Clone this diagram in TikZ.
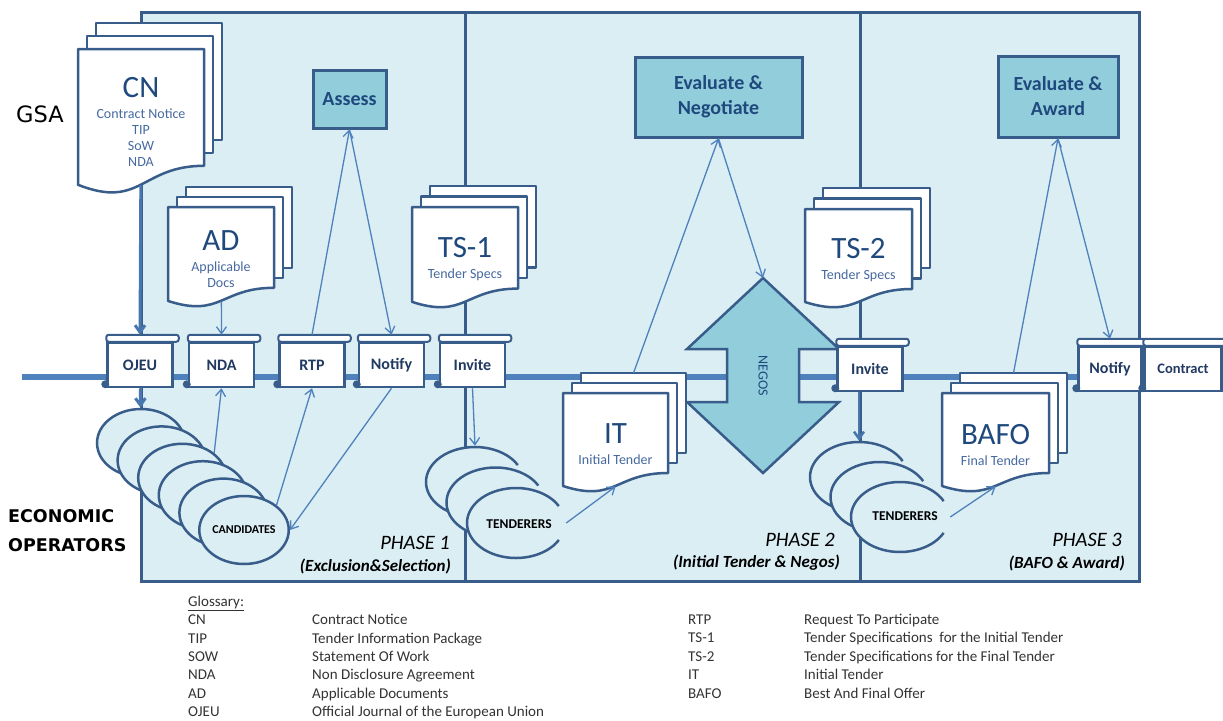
\documentclass[tikz,border=0pt]{standalone}
\usepackage{fontspec}
\setmainfont{Carlito}
\newfontfamily\labelfont{DejaVu Sans}
\usepackage{tikz}
\usetikzlibrary{shapes,arrows,arrows.meta,positioning,calc}
\definecolor{paper}{RGB}{219,238,244}
\definecolor{frame}{RGB}{56,93,138}
\definecolor{accent}{RGB}{146,205,220}
\definecolor{flow}{RGB}{79,129,189}
\definecolor{doctitle}{RGB}{31,73,125}
\definecolor{docsub}{RGB}{70,105,160}
\definecolor{btntext}{RGB}{33,58,98}

\begin{document}
\begin{tikzpicture}[
    x=1pt, y=-1pt,
    phasebox/.style={draw=frame, fill=paper, line width=3pt, anchor=north west, inner sep=0pt},
    phasetitle/.style={anchor=east, inner sep=0pt, text=black, font=\fontsize{20.5}{24}\selectfont\itshape},
    phasesub/.style={anchor=east, inner sep=0pt, text=black, font=\fontsize{17}{20}\selectfont\bfseries\itshape},
    task/.style={draw=frame, fill=accent, line width=3pt, align=center, text=doctitle, font=\fontsize{20}{25}\selectfont\bfseries},
    btn/.style={draw=frame, fill=white, line width=2.5pt, minimum width=65, minimum height=44, inner sep=0pt, text=btntext, font=\fontsize{16}{18}\selectfont\bfseries},
    btnbar/.style={draw=frame, fill=white, line width=2pt, rounded corners=2.5pt},
    crowd/.style={ellipse, draw=frame, fill=paper, line width=2.5pt, minimum width=88, minimum height=68, inner sep=0pt, font=\fontsize{12}{14}\selectfont\bfseries},
    crowdarc/.style={draw=frame, fill=paper, line width=2.5pt},
    docline/.style={draw=frame, fill=white, line width=2.5pt, line join=round},
    timeline/.style={draw=flow, line width=6.5pt},
    negosbody/.style={draw=frame, fill=accent, line width=2.5pt, line join=miter},
    flowline/.style={->, >={Straight Barb[length=7pt,width=10pt]}, draw=flow, line width=1.3pt},
    mainflow/.style={flowline, line width=3pt, draw=flow!70!frame},
    gloss/.style={anchor=base west, inner sep=0pt, text=black!80, font=\fontsize{15}{17}\selectfont},
    pics/docstack/.style n args={5}{code={
        \draw[docline] (18,-2*#3) rectangle (#1+18,0.8*#2-2*#3);
        \draw[docline] (9,-#3) rectangle (#1+9,0.8*#2-#3);
        \draw[docline] (0,0) -- (#1,0) -- (#1,0.8*#2)
            .. controls (0.5*#1,0.8*#2) and (0.5*#1,1.1*#2) .. (0,0.93*#2) -- cycle;
        \coordinate (-back) at (0.5*#1+18,-2*#3);
        \node[anchor=north west, minimum width=#1, minimum height=0.93*#2, inner sep=0pt] (-page) at (0,0) {};
        \node[align=center, inner sep=0pt, text=docsub, font=\fontsize{14}{16}\selectfont] (-text) at (0.5*#1,0.465*#2+5)
            {{\fontsize{31}{31}\selectfont\color{doctitle}#4}\\[5pt]#5};
    }}
]
    \useasboundingbox (0,0) rectangle (1223,720);

    % phases
    \node[phasebox, minimum width=324, minimum height=569] (phase1) at (140,11) {};
    \node[phasebox, minimum width=395, minimum height=569] (phase2) at (464,11) {};
    \node[phasebox, minimum width=279, minimum height=569] (phase3) at (859,11) {};

    % time line
    \coordinate (tlstart) at (22,377);
    \coordinate (tlend) at (1080,377);
    \draw[timeline] (tlstart) -- (tlend);

    % negotiation arrow
    \coordinate (negostip) at (763,278);
    \draw[negosbody] (negostip) -- (839,349) -- (799,349) -- (799,402) -- (839,402) -- (763,473)
        -- (687,402) -- (727,402) -- (727,349) -- (687,349) -- cycle;
    \node[rotate=-90, inner sep=0pt, text=doctitle, font=\fontsize{14}{16}\selectfont] (negos) at (763,376) {NEGOS};

    % documents
    \pic (cn) at (78,49) {docstack={126}{146}{13}{CN}{Contract Notice\\TIP\\SoW\\NDA}};
    \pic (ad) at (168,207) {docstack={106}{101}{10}{AD}{Applicable\\Docs}};
    \pic (tsa) at (412,207) {docstack={106}{102}{10.5}{TS-1}{Tender Specs}};
    \pic (tsb) at (805,209) {docstack={107}{100}{10.5}{TS-2}{Tender Specs}};
    \pic (it) at (563,393) {docstack={105}{100}{10}{IT}{Initial Tender}};
    \pic (bafo) at (942,393) {docstack={107}{100}{10}{BAFO}{Final Tender}};

    % tasks
    \node[task, minimum width=73, minimum height=58] (assess) at (349.5,99) {Assess};
    \node[task, minimum width=167, minimum height=80] (evalneg) at (718.5,97) {Evaluate \&\\Negotiate};
    \node[task, minimum width=120, minimum height=81] (evalaward) at (1058,96.5) {Evaluate \&\\Award};

    % steps on the time line
    \node[btn] (ojeu) at (140,365) {OJEU};
    \node[btn] (nda) at (221.5,365) {NDA};
    \node[btn] (rtp) at (312,365) {RTP};
    \node[btn] (notifya) at (391.5,365) {Notify};
    \node[btn] (invitea) at (472.5,365) {Invite};
    \node[btn] (inviteb) at (870,369) {Invite};
    \node[btn, minimum width=63] (notifyb) at (1110,369) {Notify};
    \node[btn, minimum width=77, font=\fontsize{14.5}{16}\selectfont\bfseries] (contract) at (1183,369) {Contract};
    \foreach \b in {ojeu,nda,rtp,notifya,invitea,inviteb,notifyb,contract} {
        \draw[btnbar] ([yshift=7pt]\b.north west) rectangle ([xshift=5pt]\b.north east);
        \fill[frame] ([xshift=-1pt,yshift=4pt]\b.south west) circle (4);
    }

    % candidates
    \foreach \i in {0,...,4}
        \node[crowd] (cand\i) at (141+20.6*\i,443+17.4*\i) {};
    \node[crowd] (cand5) at (244,530) {CANDIDATES};

    % tenderers
    \foreach \i in {0,1,2} {
        \node[crowd, draw=none, fill=none, minimum width=98, minimum height=70] (tena\i) at (475+20.5*\i,482+20.5*\i) {};
        \draw[crowdarc] (tena\i.center) ++(29:49 and 35) arc[start angle=29, end angle=331, x radius=49, y radius=35];
    }
    \node[inner sep=0pt, font=\fontsize{13.5}{15}\selectfont\bfseries] (tenatext) at (519,524) {TENDERERS};
    \foreach \i in {0,1,2} {
        \node[crowd, draw=none, fill=none, minimum width=98, minimum height=70] (tenb\i) at (859+20.5*\i,477+20*\i) {};
        \draw[crowdarc] (tenb\i.center) ++(27:49 and 35) arc[start angle=27, end angle=333, x radius=49, y radius=35];
    }
    \node[inner sep=0pt, font=\fontsize{13.5}{15}\selectfont\bfseries] (tenbtext) at (905,516) {TENDERERS};

    % flows
    \draw[mainflow] (cn-page) -- ([yshift=7pt]ojeu.north);
    \draw[mainflow] (ojeu) -- (cand0);
    \draw[flowline] (ad-page) -- ([yshift=7pt]nda.north);
    \draw[flowline] (cand2.north east) -- (nda.south);
    \draw[flowline] (cand5.north east) -- (rtp.south);
    \draw[flowline] ([yshift=7pt]rtp.north) -- (assess.south);
    \draw[flowline] (assess.south) -- ([yshift=7pt]notifya.north);
    \draw[flowline] (notifya.south) -- (cand5.east);
    \draw[flowline] (invitea.south) -- (tena0.north);
    \draw[flowline] (tena2.east) -- (it-page.south);
    \draw[flowline] (it-back) -- (evalneg.south);
    \draw[flowline] (evalneg.south) -- (negostip);
    \draw[mainflow, line width=2.5pt] (tenb0.north |- inviteb.south) -- (tenb0.north);
    \draw[flowline] (tenb2.east) -- (bafo-page.south);
    \draw[flowline] (bafo-back) -- (evalaward.south);
    \draw[flowline] (evalaward.south) -- ([yshift=7pt]notifyb.north);

    % labels
    \node[font=\labelfont\fontsize{22.5}{26}\selectfont] (gsa) at (40,114) {GSA};
    \node[anchor=west, align=left, inner sep=0pt, font=\labelfont\fontsize{17.5}{29}\selectfont\bfseries] (eco) at (8,531) {ECONOMIC\\OPERATORS};
    \node[phasetitle] (ph1title) at (450,543) {PHASE 1};
    \node[phasesub] (ph1sub) at (451,566) {(Exclusion\&Selection)};
    \node[phasetitle] (ph2title) at (835,540) {PHASE 2};
    \node[phasesub] (ph2sub) at (840,563) {(Initial Tender \& Negos)};
    \node[phasetitle] (ph3title) at (1122,540) {PHASE 3};
    \node[phasesub] (ph3sub) at (1125,563) {(BAFO \& Award)};

    % glossary
    \node[gloss] (glhead) at (188,606.5) {\underline{Glossary:}};
    \foreach \ab/\txt [count=\i] in {CN/Contract Notice, TIP/Tender Information Package, SOW/Statement Of Work,
            NDA/Non Disclosure Agreement, AD/Applicable Documents, OJEU/Official Journal of the European Union} {
        \node[gloss] (gla\i) at (188,606.5+18.3*\i) {\ab};
        \node[gloss] (glb\i) at (312,606.5+18.3*\i) {\txt};
    }
    \foreach \ab/\txt [count=\i] in {RTP/Request To Participate, TS-1/Tender Specifications\ \ for the Initial Tender,
            TS-2/Tender Specifications for the Final Tender, IT/Initial Tender, BAFO/Best And Final Offer} {
        \node[gloss] (glc\i) at (688,605.5+18.5*\i) {\ab};
        \node[gloss] (gld\i) at (804,605.5+18.5*\i) {\txt};
    }
\end{tikzpicture}
\end{document}
